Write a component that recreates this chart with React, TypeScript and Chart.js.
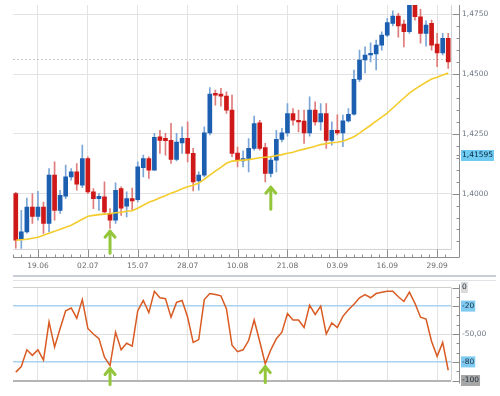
import { useEffect, useRef } from 'react';
import { Chart, registerables } from 'chart.js';

Chart.register(...registerables);

// ---------- data ----------
const DATES = ['15.06','16.06','17.06','18.06','19.06','22.06','23.06','24.06','25.06','26.06','29.06','30.06','01.07','02.07','03.07','06.07','07.07','08.07','09.07','10.07','13.07','14.07','15.07','16.07','17.07','20.07','21.07','22.07','23.07','24.07','27.07','28.07','29.07','30.07','31.07','03.08','04.08','05.08','06.08','07.08','10.08','11.08','12.08','13.08','14.08','17.08','18.08','19.08','20.08','21.08','24.08','25.08','26.08','27.08','28.08','31.08','01.09','02.09','03.09','04.09','07.09','08.09','09.09','10.09','11.09','14.09','15.09','16.09','17.09','18.09','21.09','22.09','23.09','24.09','25.09','28.09','29.09','30.09','01.10'];
const MAJOR_DATES = ['19.06','02.07','15.07','28.07','10.08','21.08','03.09','16.09','29.09'];

const OPEN = [1.4000,1.3808,1.3840,1.3944,1.3905,1.3944,1.3875,1.4077,1.3930,1.3989,1.4070,1.4091,1.4035,1.4147,1.4007,1.3979,1.3986,1.3917,1.3889,1.4021,1.3947,1.3979,1.3975,1.4109,1.4147,1.4098,1.4237,1.4231,1.4223,1.4143,1.4212,1.4231,1.4168,1.4053,1.4077,1.4254,1.4419,1.4416,1.4408,1.4349,1.4170,1.4137,1.4147,1.4189,1.4296,1.4193,1.4084,1.4140,1.4227,1.4254,1.4335,1.4307,1.4303,1.4254,1.4349,1.4300,1.4335,1.4223,1.4265,1.4254,1.4304,1.4332,1.4478,1.4559,1.4580,1.4584,1.4621,1.4663,1.4712,1.4743,1.4709,1.4677,1.4790,1.4740,1.4670,1.4712,1.4626,1.4589,1.4650];
const HIGH = [1.4005,1.3930,1.3981,1.4000,1.4010,1.3965,1.4105,1.4133,1.4014,1.4119,1.4105,1.4126,1.4203,1.4154,1.4021,1.4000,1.4049,1.3937,1.4045,1.4028,1.4007,1.4023,1.4133,1.4161,1.4154,1.4252,1.4265,1.4252,1.4294,1.4252,1.4279,1.4300,1.4189,1.4091,1.4279,1.4444,1.4433,1.4440,1.4426,1.4412,1.4195,1.4179,1.4230,1.4324,1.4307,1.4210,1.4154,1.4265,1.4273,1.4377,1.4356,1.4349,1.4349,1.4405,1.4384,1.4377,1.4377,1.4300,1.4330,1.4328,1.4356,1.4517,1.4600,1.4614,1.4631,1.4642,1.4677,1.4733,1.4765,1.4754,1.4726,1.4820,1.4843,1.4771,1.4723,1.4726,1.4670,1.4670,1.4670];
const LOW = [1.3772,1.3771,1.3834,1.3875,1.3889,1.3833,1.3840,1.3889,1.3917,1.3979,1.4056,1.4014,1.4025,1.4000,1.3937,1.3930,1.3917,1.3854,1.3875,1.3909,1.3902,1.3930,1.3965,1.4070,1.4063,1.4098,1.4168,1.4161,1.4126,1.4137,1.4168,1.4133,1.4011,1.4014,1.4070,1.4245,1.4370,1.4366,1.4335,1.4154,1.4112,1.4112,1.4091,1.4182,1.4182,1.4049,1.4070,1.4091,1.4216,1.4240,1.4286,1.4258,1.4210,1.4240,1.4286,1.4265,1.4189,1.4203,1.4245,1.4196,1.4299,1.4328,1.4468,1.4505,1.4551,1.4517,1.4600,1.4656,1.4701,1.4654,1.4614,1.4670,1.4726,1.4629,1.4617,1.4600,1.4531,1.4580,1.4524];
const CLOSE = [1.3805,1.3840,1.3944,1.3905,1.3944,1.3875,1.4077,1.3930,1.3993,1.4070,1.4091,1.4039,1.4147,1.4007,1.3979,1.3989,1.3923,1.3889,1.4014,1.3939,1.3979,1.3969,1.4112,1.4147,1.4098,1.4235,1.4223,1.4221,1.4143,1.4216,1.4231,1.4168,1.4049,1.4077,1.4254,1.4416,1.4412,1.4408,1.4349,1.4168,1.4140,1.4147,1.4189,1.4293,1.4189,1.4084,1.4140,1.4227,1.4254,1.4335,1.4307,1.4300,1.4254,1.4349,1.4300,1.4335,1.4223,1.4265,1.4254,1.4304,1.4332,1.4478,1.4559,1.4580,1.4587,1.4621,1.4663,1.4715,1.4743,1.4701,1.4677,1.4790,1.4740,1.4670,1.4705,1.4621,1.4589,1.4650,1.4551];
const MOVING_AVG = [1.3805,1.3807,1.3809,1.3813,1.3817,1.3826,1.3834,1.3842,1.3851,1.3859,1.3868,1.3880,1.3893,1.3905,1.3909,1.3912,1.3914,1.3916,1.3920,1.3922,1.3926,1.3928,1.3939,1.3951,1.3964,1.3972,1.3983,1.3991,1.4002,1.4010,1.4020,1.4029,1.4035,1.4044,1.4060,1.4077,1.4094,1.4110,1.4127,1.4136,1.4138,1.4140,1.4142,1.4146,1.4150,1.4152,1.4154,1.4159,1.4163,1.4169,1.4173,1.4180,1.4186,1.4192,1.4198,1.4205,1.4209,1.4213,1.4215,1.4219,1.4228,1.4238,1.4253,1.4270,1.4286,1.4303,1.4320,1.4337,1.4358,1.4379,1.4400,1.4420,1.4437,1.4452,1.4466,1.4479,1.4487,1.4496,1.4504];
const WPR = [-91,-85,-67,-73,-67,-78,-37,-64,-44,-25,-22,-33,-13,-44,-50,-55,-75,-84,-48,-67,-60,-63,-25,-14,-27,-4,-11,-12,-32,-16,-14,-32,-59,-56,-13,-6.5,-7.6,-9,-23,-62,-69,-67,-57,-35,-58,-82,-67,-55,-48,-28,-35,-35,-43,-19,-29,-20,-50,-38,-43,-31,-24,-18,-11,-7.6,-11,-6.5,-5,-4,-4,-10,-15,-5,-17,-32,-34,-58,-74,-59,-89];

const PRICE_MIN = 1.3767;
const PRICE_MAX = 1.4789;
const PRICE_MAJOR_TICKS = [1.4, 1.425, 1.45, 1.475];
const PRICE_TICK_LABELS = ['1,4000', '1,4250', '1,4500', '1,4750'];
const PRICE_MINOR_START = 1.38;
const PRICE_MINOR_STEP = 0.005;
const CURRENT_PRICE = 1.41595;
const CURRENT_PRICE_LABEL = '1,41595';
const LEVEL_LINE = 1.4563;

const WPR_TICK_VALUES = [0, -20, -50, -80, -100];
const WPR_TICK_LABELS = ['0', '-20', '-50,00', '-80', '-100'];
const WPR_MINOR_STEP = 10;

const PRICE_ARROWS = [{ index: 17, price: 1.3847 }, { index: 46, price: 1.4031 }];
const WPR_ARROWS = [{ index: 17, value: -86 }, { index: 45, value: -84 }];

// ---------- style ----------
const FONT = { family: "'DejaVu Sans', Verdana, sans-serif", size: 7.5 };
const UP_BODY = '#1c5eb0';
const UP_WICK = '#7aa5d6';
const DOWN_BODY = '#cf1818';
const DOWN_WICK = '#e07b7b';
const GRID = '#e3e3e3';
const AXIS = '#8e8e8e';
const FRAME = '#d3d3d3';
const ARROW = '#93c63a';
const NONE = 'rgba(0,0,0,0)';

const priceTicks: number[] = (() => {
  const t: number[] = [];
  for (let k = 0; ; k++) {
    const v = Math.round((PRICE_MINOR_START + k * PRICE_MINOR_STEP) * 10000) / 10000;
    if (v > PRICE_MAX) break;
    t.push(v);
  }
  t.push(CURRENT_PRICE);
  return t.sort((a, b) => a - b);
})();
const majorPriceIdx = (v: number) => PRICE_MAJOR_TICKS.findIndex((m) => Math.abs(m - v) < 1e-7);

const wprTicks: number[] = (() => {
  const t: number[] = [];
  for (let v = 0; v >= -100; v -= WPR_MINOR_STEP) t.push(v);
  return t.sort((a, b) => a - b);
})();

const isMajorDate = (i: number) => MAJOR_DATES.includes(DATES[i]);

const zeroPad = (s: any) => {
  s.paddingTop = 0;
  s.paddingBottom = 0;
  s.paddingLeft = 0;
  s.paddingRight = 0;
};

function drawArrow(ctx: CanvasRenderingContext2D, x: number, tipY: number, len: number) {
  ctx.save();
  ctx.strokeStyle = ARROW;
  ctx.lineWidth = 3;
  ctx.lineCap = 'round';
  ctx.lineJoin = 'round';
  ctx.beginPath();
  ctx.moveTo(x, tipY + 1);
  ctx.lineTo(x, tipY + len);
  ctx.stroke();
  ctx.beginPath();
  ctx.moveTo(x - 5, tipY + 7);
  ctx.lineTo(x, tipY + 1);
  ctx.lineTo(x + 5, tipY + 7);
  ctx.stroke();
  ctx.restore();
}

function minorDateTicks(): number[] {
  const majors = MAJOR_DATES.map((d) => DATES.indexOf(d));
  const out: number[] = [];
  const first = majors[0];
  for (let k = 1; first - 1.5 * k >= -0.5; k++) out.push(first - 1.5 * k);
  majors.forEach((m) => {
    for (let k = 1; k <= 5; k++) {
      const v = m + 1.5 * k;
      if (v <= DATES.length - 0.5) out.push(v);
    }
  });
  return out;
}

const mainDecor = {
  id: 'mainDecor',
  beforeDatasetsDraw(chart: any) {
    const { ctx, chartArea: a } = chart;
    const y = chart.scales.y;
    const ly = Math.round(y.getPixelForValue(LEVEL_LINE)) + 0.5;
    ctx.save();
    ctx.strokeStyle = '#c6c6c6';
    ctx.lineWidth = 1;
    ctx.setLineDash([2, 2]);
    ctx.beginPath();
    ctx.moveTo(a.left, ly);
    ctx.lineTo(a.right, ly);
    ctx.stroke();
    ctx.restore();
  },
  afterDraw(chart: any) {
    const { ctx, chartArea: a } = chart;
    const x = chart.scales.x;
    const y = chart.scales.y;
    const r = Math.round(a.right) + 0.5;
    const b = Math.round(a.bottom) + 0.5;
    ctx.save();
    ctx.lineWidth = 1;
    ctx.strokeStyle = FRAME;
    ctx.beginPath();
    ctx.moveTo(a.left, b);
    ctx.lineTo(r, b);
    ctx.lineTo(r, a.top);
    ctx.stroke();
    const ax = r + 8;
    const ay = b + 8;
    ctx.strokeStyle = AXIS;
    ctx.beginPath();
    ctx.moveTo(ax, a.top);
    ctx.lineTo(ax, ay);
    ctx.lineTo(a.left, ay);
    ctx.stroke();
    for (const t of y.ticks) {
      const py = Math.round(y.getPixelForValue(t.value)) + 0.5;
      const len = majorPriceIdx(t.value) >= 0 ? 7 : 3;
      ctx.beginPath();
      ctx.moveTo(ax - len, py);
      ctx.lineTo(ax, py);
      ctx.stroke();
    }
    MAJOR_DATES.forEach((d) => {
      const px = Math.round(x.getPixelForValue(DATES.indexOf(d))) + 0.5;
      ctx.beginPath();
      ctx.moveTo(px, b);
      ctx.lineTo(px, ay);
      ctx.stroke();
    });
    minorDateTicks().forEach((v) => {
      const px = Math.round(x.getPixelForValue(v)) + 0.5;
      ctx.beginPath();
      ctx.moveTo(px, ay - 3);
      ctx.lineTo(px, ay);
      ctx.stroke();
    });
    ctx.restore();
    PRICE_ARROWS.forEach((p) => drawArrow(ctx, x.getPixelForValue(p.index), y.getPixelForValue(p.price), 23));
  },
};

const subDecor = {
  id: 'subDecor',
  beforeDraw(chart: any) {
    const { ctx, chartArea: a } = chart;
    ctx.save();
    ctx.strokeStyle = '#c9ced6';
    ctx.lineWidth = 2;
    ctx.beginPath();
    ctx.moveTo(a.left, 4);
    ctx.lineTo(chart.width - 4, 4);
    ctx.stroke();
    ctx.strokeStyle = '#dfe2e7';
    ctx.lineWidth = 1;
    ctx.beginPath();
    ctx.moveTo(a.left, 8.5);
    ctx.lineTo(chart.width - 4, 8.5);
    ctx.stroke();
    ctx.restore();
  },
  afterDraw(chart: any) {
    const { ctx, chartArea: a } = chart;
    const x = chart.scales.x;
    const y = chart.scales.y;
    const ax = Math.round(a.right) + 8.5;
    ctx.save();
    ctx.lineWidth = 1;
    ctx.strokeStyle = FRAME;
    ctx.beginPath();
    ctx.moveTo(Math.round(a.right) + 0.5, a.top);
    ctx.lineTo(Math.round(a.right) + 0.5, a.bottom);
    ctx.stroke();
    ctx.strokeStyle = AXIS;
    ctx.beginPath();
    ctx.moveTo(ax, a.top - 3);
    ctx.lineTo(ax, a.bottom + 3);
    ctx.stroke();
    for (const t of y.ticks) {
      const py = Math.round(y.getPixelForValue(t.value)) + 0.5;
      const len = WPR_TICK_VALUES.includes(t.value) ? 7 : 3;
      ctx.beginPath();
      ctx.moveTo(ax - len, py);
      ctx.lineTo(ax, py);
      ctx.stroke();
    }
    ctx.restore();
    WPR_ARROWS.forEach((p) => drawArrow(ctx, x.getPixelForValue(p.index), y.getPixelForValue(p.value), 17));
  },
};

function mainConfig(): any {
  return {
    type: 'bar',
    data: {
      labels: DATES,
      datasets: [
        {
          type: 'line',
          data: MOVING_AVG,
          borderColor: '#f3cc2c',
          borderWidth: 1.6,
          pointRadius: 0,
          tension: 0,
          order: 0,
        },
        {
          data: OPEN.map((o, i) => [o, CLOSE[i]]),
          backgroundColor: OPEN.map((o, i) => (CLOSE[i] >= o ? UP_BODY : DOWN_BODY)),
          barThickness: 4,
          minBarLength: 1,
          grouped: false,
          borderWidth: 0,
          order: 1,
        },
        {
          data: LOW.map((l, i) => [l, HIGH[i]]),
          backgroundColor: OPEN.map((o, i) => (CLOSE[i] >= o ? UP_WICK : DOWN_WICK)),
          barThickness: 1,
          grouped: false,
          borderWidth: 0,
          order: 2,
        },
      ],
    },
    options: {
      animation: false,
      responsive: false,
      devicePixelRatio: 1,
      layout: { padding: { left: 13, top: 5, right: 0, bottom: 0 } },
      plugins: { legend: { display: false }, tooltip: { enabled: false } },
      scales: {
        x: {
          offset: true,
          afterFit: (s: any) => { s.height = 22.7; zeroPad(s); },
          border: { display: false },
          grid: { offset: false, drawTicks: false, color: (c: any) => (isMajorDate(c.index) ? GRID : NONE) },
          ticks: {
            autoSkip: false,
            maxRotation: 0,
            minRotation: 0,
            padding: 12,
            font: FONT,
            color: '#6c6c6c',
            callback: (_v: any, i: number) => (isMajorDate(i) ? DATES[i] : ''),
          },
        },
        y: {
          position: 'right',
          min: PRICE_MIN,
          max: PRICE_MAX,
          afterBuildTicks: (s: any) => { s.ticks = priceTicks.map((value) => ({ value })); },
          afterFit: (s: any) => { s.width = 49; zeroPad(s); },
          border: { display: false },
          grid: { drawTicks: false, color: (c: any) => (c.tick && majorPriceIdx(c.tick.value) >= 0 ? GRID : NONE) },
          ticks: {
            autoSkip: false,
            padding: 11,
            font: FONT,
            color: (c: any) => (c.tick && c.tick.value === CURRENT_PRICE ? '#0b2740' : '#6f7887'),
            callback: (v: number) => {
              const i = majorPriceIdx(v);
              if (i >= 0) return PRICE_TICK_LABELS[i];
              if (v === CURRENT_PRICE) return CURRENT_PRICE_LABEL;
              return '';
            },
            showLabelBackdrop: (c: any) => !!c.tick && c.tick.value === CURRENT_PRICE,
            backdropColor: '#6fcbf1',
            backdropPadding: { x: 1, y: 1 },
          },
        },
      },
    },
    plugins: [mainDecor],
  };
}

function subConfig(): any {
  const wprLabel = (v: number) => {
    const i = WPR_TICK_VALUES.indexOf(v);
    return i >= 0 ? WPR_TICK_LABELS[i] : '';
  };
  return {
    type: 'line',
    data: {
      labels: DATES,
      datasets: [
        { data: WPR, borderColor: '#d95a22', borderWidth: 1.5, pointRadius: 0, tension: 0 },
      ],
    },
    options: {
      animation: false,
      responsive: false,
      devicePixelRatio: 1,
      layout: { padding: { left: 13, top: 13.3, right: 0, bottom: 0 } },
      plugins: { legend: { display: false }, tooltip: { enabled: false } },
      scales: {
        x: {
          offset: true,
          afterFit: (s: any) => { s.height = 13.7; },
          border: { display: false },
          grid: { offset: false, drawTicks: false, color: (c: any) => (isMajorDate(c.index) ? GRID : NONE) },
          ticks: { display: false },
        },
        y: {
          position: 'right',
          min: -100,
          max: 0,
          afterBuildTicks: (s: any) => { s.ticks = wprTicks.map((value) => ({ value })); },
          afterFit: (s: any) => { s.width = 49; },
          border: { display: false },
          grid: {
            drawTicks: false,
            color: (c: any) => {
              const v = c.tick ? c.tick.value : NaN;
              if (v === -20 || v === -80) return '#a9d2ef';
              if (v === -50) return '#dedede';
              if (v === 0) return '#cfcfcf';
              if (v === -100) return '#b5b5b5';
              return NONE;
            },
            lineWidth: (c: any) => {
              const v = c.tick ? c.tick.value : NaN;
              if (v === -20 || v === -80) return 1.5;
              if (v === -100) return 2;
              return 1;
            },
          },
          ticks: {
            autoSkip: false,
            padding: 11,
            font: FONT,
            color: (c: any) => (c.tick && c.tick.value === -50 ? '#6f7887' : '#1d2b3a'),
            callback: (v: number) => wprLabel(v),
            showLabelBackdrop: (c: any) => !!c.tick && [0, -20, -80, -100].includes(c.tick.value),
            backdropColor: (c: any) => {
              const v = c.tick ? c.tick.value : NaN;
              if (v === -20 || v === -80) return '#7fcaf0';
              if (v === 0) return '#d9d9d9';
              return '#a6a6a6';
            },
            backdropPadding: { x: 1, y: 1 },
          },
        },
      },
    },
    plugins: [subDecor],
  };
}

export default function App() {
  const mainRef = useRef<HTMLCanvasElement>(null);
  const subRef = useRef<HTMLCanvasElement>(null);
  useEffect(() => {
    const main = new Chart(mainRef.current as HTMLCanvasElement, mainConfig());
    const sub = new Chart(subRef.current as HTMLCanvasElement, subConfig());
    return () => {
      main.destroy();
      sub.destroy();
    };
  }, []);
  return (
    <div style={{ position: 'absolute', left: 0, top: 0, width: 500, height: 396, background: '#fff' }}>
      <canvas ref={mainRef} width={500} height={272} style={{ position: 'absolute', left: 0, top: 0, width: 500, height: 272 }} />
      <canvas ref={subRef} width={500} height={124} style={{ position: 'absolute', left: 0, top: 272, width: 500, height: 124 }} />
    </div>
  );
}
